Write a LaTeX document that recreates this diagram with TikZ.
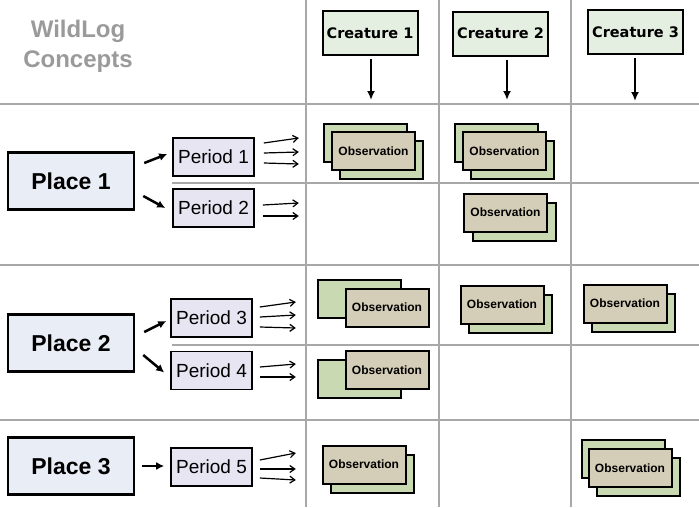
\documentclass[tikz,border=0pt]{standalone}
\usepackage{fontspec}
\setmainfont{Liberation Sans}
\newfontfamily\verdfont{DejaVu Sans}
\usetikzlibrary{arrows.meta,calc}
\definecolor{gridgray}{HTML}{A8A8A8}
\definecolor{titlegray}{HTML}{9A9A9A}
\definecolor{creafill}{HTML}{E4EFE2}
\definecolor{placefill}{HTML}{E9EDF6}
\definecolor{perfill}{HTML}{E7E5F2}
\definecolor{obsfill}{HTML}{D4CDB7}
\definecolor{obsgreen}{HTML}{C9D9B1}

\begin{document}
\begin{tikzpicture}[x=1pt,y=-1pt,
  grid/.style={draw=gridgray,line width=2pt},
  ttl/.style={text=titlegray,align=center,font=\fontsize{24}{30}\selectfont\bfseries},
  crea/.style={draw,line width=2pt,fill=creafill,minimum width=95pt,minimum height=44pt,inner sep=0pt,font=\verdfont\fontsize{14.5}{14.5}\selectfont\bfseries},
  place/.style={draw,line width=2.5pt,fill=placefill,minimum width=126pt,minimum height=57pt,inner sep=0pt,font=\fontsize{23}{23}\selectfont\bfseries},
  per/.style={draw,line width=1.6pt,fill=perfill,minimum width=81pt,minimum height=38pt,inner sep=0pt,font=\fontsize{19}{19}\selectfont},
  obs/.style={draw,line width=2pt,fill=obsfill,minimum width=83pt,minimum height=38pt,inner sep=0pt,font=\fontsize{12}{12}\selectfont\bfseries},
  obsb/.style={obs,fill=obsgreen},
  creaarr/.style={line width=2pt,-{Latex[length=9pt,width=8pt]},shorten <=3pt},
  placearr/.style={line width=2.5pt,-{Latex[length=8pt,width=8pt]}},
  fan/.style={line width=1.2pt,-{Straight Barb[length=5pt,width=7pt]}}]
\useasboundingbox(0,0)rectangle(699,507);
% table lines
\draw[grid](0,104)--(699,104)(0,265)--(699,265)(0,420)--(699,420);
\draw[grid](172,183)--(699,183)(172,345)--(699,345);
\draw[grid](306,0)--(306,507)(439,0)--(439,507)(571,0)--(571,507);
\node[ttl](title)at(78,46){WildLog\\Concepts};
% creatures
\node[crea](c1)at(370,33){Creature 1};\node[crea](c2)at(500.5,33.5){Creature 2};\node[crea](c3)at(635.5,32){Creature 3};
\coordinate(c1e)at(371,100);\coordinate(c2e)at(507,100);\coordinate(c3e)at(635,101);
\draw[creaarr](c1e|-c1.south)--(c1e);\draw[creaarr](c2e|-c2.south)--(c2e);\draw[creaarr](c3e|-c3.south)--(c3e);
% places and periods
\node[place](pl1)at(71,181){Place 1};\node[place](pl2)at(71,343){Place 2};\node[place](pl3)at(71,466){Place 3};
\node[per](pe1)at(213.5,157){Period 1};\node[per](pe2)at(213.5,208){Period 2};
\node[per](pe3)at(211.5,318){Period 3};\node[per](pe4)at(211.5,370.5){Period 4};
\node[per](pe5)at(211.5,467){Period 5};
\draw[placearr]($(pl1.east)+(9,-18)$)--($(pe1.west)+(-5,-3)$);\draw[placearr]($(pl1.east)+(8,15)$)--($(pe2.west)+(-7,0)$);
\draw[placearr]($(pl2.east)+(9,-11)$)--($(pe3.west)+(-4,3)$);\draw[placearr]($(pl2.east)+(8,12)$)--($(pe4.west)+(-6,2)$);
\draw[placearr]($(pl3.east)+(7,0)$)--($(pe5.west)+(-6,-1)$);
% fans into the table
\draw[fan]($(pe1.east)+(9,-14)$)--($(pe1.east)+(44,-19)$);\draw[fan]($(pe1.east)+(9,-4)$)--($(pe1.east)+(44,-5)$);\draw[fan]($(pe1.east)+(9,6)$)--($(pe1.east)+(44,7)$);
\draw[fan]($(pe2.east)+(8,-3)$)--($(pe2.east)+(44,-5)$);\draw[fan]($(pe2.east)+(8,8)$)--($(pe2.east)+(44,8)$);
\draw[fan]($(pe3.east)+(7,-11)$)--($(pe3.east)+(43,-16)$);\draw[fan]($(pe3.east)+(7,-1)$)--($(pe3.east)+(43,-3)$);\draw[fan]($(pe3.east)+(7,9)$)--($(pe3.east)+(43,10)$);
\draw[fan]($(pe4.east)+(7,-3.5)$)--($(pe4.east)+(43,-6.5)$);\draw[fan]($(pe4.east)+(7,6.5)$)--($(pe4.east)+(43,6.5)$);
\draw[fan]($(pe5.east)+(7,-7)$)--($(pe5.east)+(43,-14)$);\draw[fan]($(pe5.east)+(7,2)$)--($(pe5.east)+(43,2)$);\draw[fan]($(pe5.east)+(7,11)$)--($(pe5.east)+(43,13)$);
% observations
\node[obsb](o1a)at(365.5,143){};\node[obsb](o1b)at(381.5,159.5){};\node[obs](o1)at(373.5,151){Observation};
\node[obsb](o2a)at(496.5,143){};\node[obsb](o2b)at(512,159.5){};\node[obs](o2)at(504.5,151){Observation};
\node[obsb](o3b)at(514,222){};\node[obs](o3)at(505.5,212.5){Observation};
\node[obsb](o4a)at(359,299){};\node[obs](o4)at(387,307.5){Observation};
\node[obsb](o5b)at(510,313.5){};\node[obs](o5)at(502,304.5){Observation};
\node[obsb](o6b)at(633,312.5){};\node[obs](o6)at(625,303.5){Observation};
\node[obsb](o7a)at(359,378.5){};\node[obs](o7)at(387,370){Observation};
\node[obsb](o8b)at(372,473.5){};\node[obs](o8)at(364,464.5){Observation};
\node[obsb](o9a)at(623,459){};\node[obsb](o9b)at(638,477){};\node[obs](o9)at(630,468){Observation};
\end{tikzpicture}
\end{document}
